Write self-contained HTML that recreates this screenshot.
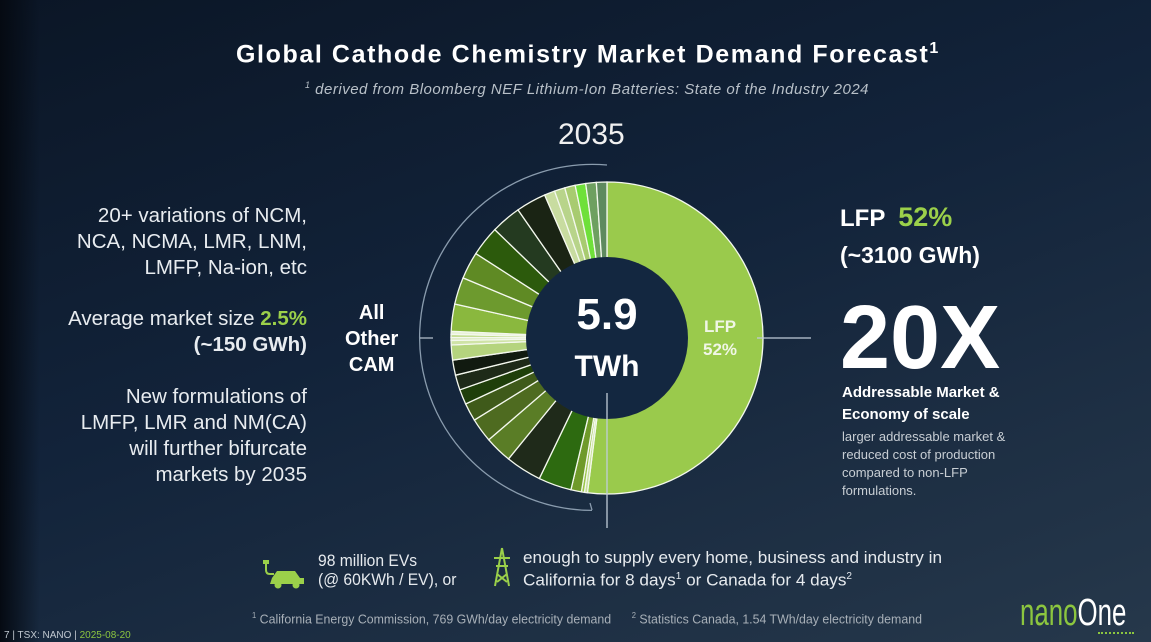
<!DOCTYPE html>
<html><head><meta charset="utf-8"><style>
body{margin:0;width:1151px;height:642px;overflow:hidden;font-family:"Liberation Sans",sans-serif;color:#fff;
background:linear-gradient(160deg,#0b1626 0%,#12233a 45%,#26384b 100%);position:relative}
.a{position:absolute;white-space:nowrap}
.l{right:844px;text-align:right;font-size:20.5px;line-height:26px;color:#e8ecf0}
.g{color:#9bd04a;font-weight:bold}
</style></head><body>
<div class="a" style="left:0;top:0;width:40px;height:642px;background:linear-gradient(90deg,#050a12,rgba(5,10,18,0))"></div>
<div class="a" style="left:236px;top:40px;font-size:25px;font-weight:bold;letter-spacing:1.6px">Global Cathode Chemistry Market Demand Forecast<sup style="font-size:16px">1</sup></div>
<div class="a" style="left:305px;top:80px;font-size:15px;font-style:italic;color:#b8c0c8;letter-spacing:0.5px"><sup style="font-size:9px">1</sup> derived from Bloomberg NEF Lithium-Ion Batteries: State of the Industry 2024</div>
<div class="a" style="left:558px;top:118px;font-size:30px;color:#f0f0f0">2035</div>
<div class="a l" style="top:203px">20+ variations of NCM,<br>NCA, NCMA, LMR, LNM,<br>LMFP, Na-ion, etc</div>
<div class="a l" style="top:306px">Average market size <span class="g">2.5%</span><br><b>(~150 GWh)</b></div>
<div class="a l" style="top:384px">New formulations of<br>LMFP, LMR and NM(CA)<br>will further bifurcate<br>markets by 2035</div>
<div class="a" style="left:345px;top:300px;font-size:20px;font-weight:bold;text-align:center;line-height:26px">All<br>Other<br>CAM</div>
<svg class="a" style="left:0;top:0" width="1151" height="642" id="s">
<g id="d"></g>
<circle cx="607" cy="338" r="81" fill="#132740"/>
<path d="M607 165 A173 173 0 1 0 592 510.4" fill="none" stroke="#8a9cae" stroke-width="1.3"/>
<line x1="420" y1="338" x2="433" y2="338" stroke="#b0bcc8" stroke-width="1.3"/>
<line x1="757" y1="338" x2="811" y2="338" stroke="#c0ccd8" stroke-width="1.3"/>
<line x1="607" y1="393" x2="607" y2="528" stroke="#c0ccd8" stroke-width="1.3"/>
<line x1="592" y1="510" x2="590" y2="503" stroke="#8a9cae" stroke-width="1.3"/>
</svg>
<div class="a" style="left:560px;top:290px;width:94px;text-align:center;font-size:44px;font-weight:bold;line-height:50px">5.9</div>
<div class="a" style="left:560px;top:350px;width:94px;text-align:center;font-size:30px;font-weight:bold">TWh</div>
<div class="a" style="left:703px;top:315px;font-size:17px;font-weight:bold;color:#f0f6e6;text-align:center;line-height:23px">LFP<br>52%</div>
<div class="a" style="left:840px;top:202px;font-size:24px;font-weight:bold">LFP &nbsp;<span class="g" style="font-size:27px">52%</span></div>
<div class="a" style="left:840px;top:242px;font-size:23px;font-weight:bold">(~3100 GWh)</div>
<div class="a" style="left:840px;top:288px;font-size:90px;font-weight:bold;line-height:100px">20X</div>
<div class="a" style="left:842px;top:382px;font-size:15px;font-weight:bold;line-height:22px">Addressable Market &amp;<br>Economy of scale</div>
<div class="a" style="left:842px;top:428px;font-size:13px;color:#c8ced4;line-height:18px">larger addressable market &amp;<br>reduced cost of production<br>compared to non-LFP<br>formulations.</div>
<svg class="a" style="left:258px;top:560px" width="50" height="30"><path d="M8 2 v8 q0 4 4 4 h4" stroke="#9bd04a" fill="none" stroke-width="2"/><rect x="5" y="0" width="6" height="4" fill="#9bd04a"/><path d="M14 18 l5 -7 h18 l5 7 h4 v6 h-34 z" fill="#9bd04a"/><circle cx="20" cy="25" r="3.5" fill="#9bd04a"/><circle cx="38" cy="25" r="3.5" fill="#9bd04a"/></svg>
<div class="a" style="left:318px;top:551px;font-size:17px;line-height:19px;color:#e6eaee;transform:scaleX(.92);transform-origin:left">98 million EVs<br>(@ 60KWh / EV), or</div>
<svg class="a" style="left:490px;top:546px" width="24" height="42"><path d="M12 2 L5 40 M12 2 L19 40 M4 12 H20 M6 20 H18 M7 28 L17 36 M17 28 L7 36" stroke="#9bd04a" stroke-width="2" fill="none"/></svg>
<div class="a" style="left:523px;top:548px;font-size:17px;line-height:19px;color:#e6eaee;transform:scaleX(1.01);transform-origin:left">enough to supply every home, business and industry in<br>California for 8 days<sup style="font-size:10px">1</sup> or Canada for 4 days<sup style="font-size:10px">2</sup></div>
<div class="a" style="left:252px;top:611px;font-size:13px;color:#a8b0b8;transform:scaleX(.95);transform-origin:left"><sup style="font-size:8px">1</sup> California Energy Commission, 769 GWh/day electricity demand &nbsp;&nbsp;&nbsp;&nbsp; <sup style="font-size:8px">2</sup> Statistics Canada, 1.54 TWh/day electricity demand</div>
<div class="a" style="left:1020px;top:592px;font-size:38px;transform:scaleX(.68);transform-origin:left"><span style="color:#8cc63f">nano</span><span>One</span></div>
<div class="a" style="left:1098px;top:632px;width:36px;border-top:2px dotted #8cc63f"></div>
<div class="a" style="left:4px;top:630px;font-size:10px;color:#c0c8d0">7 | TSX: NANO | <span style="color:#8cc63f">2025-08-20</span></div>
<script>
var segs=[[1,"#c8e09a"],[1,"#9bc54a"],[3.5,"#6f9a2a"],[11,"#2d6a10"],[12,"#1f2a1a"],[9,"#5a7d26"],[8,"#4e6b20"],[6,"#3f5a1a"],[5,"#1f3f0a"],[5,"#1e2a18"],[5,"#111a10"],[5,"#b5d47e"],[1.5,"#cfe3a6"],[1,"#dbe9bf"],[1,"#c0da8a"],[1,"#e8f2d6"],[9,"#8ab83e"],[9,"#6d9a2e"],[9,"#5f8a24"],[10,"#2c5a0c"],[10,"#243a20"],[10,"#1a2414"],[3.5,"#c8dca0"],[3.5,"#b8d48a"],[3.5,"#a8cb70"],[3.5,"#6fe03a"],[3.5,"#6ea060"],[3.5,"#5e8a5e"]];
var tot=0;segs.forEach(s=>tot+=s[0]);
var all=[[187.2,"#9aca4c"]];segs.forEach(s=>all.push([s[0]*172.8/tot,s[1]]));
var cx=607,cy=338,R=156,r=80,a=0,h="";
function p(ang,rad){var t=(ang-90)*Math.PI/180;return (cx+rad*Math.cos(t)).toFixed(2)+" "+(cy+rad*Math.sin(t)).toFixed(2);}
all.forEach(s=>{var b=a+s[0],lg=s[0]>180?1:0;
h+='<path d="M'+p(a,R)+' A'+R+' '+R+' 0 '+lg+' 1 '+p(b,R)+' L'+p(b,r)+' A'+r+' '+r+' 0 '+lg+' 0 '+p(a,r)+' Z" fill="'+s[1]+'" stroke="#f4f8ee" stroke-width="1.3"/>';a=b;});
document.getElementById("d").innerHTML=h;
</script>
</body></html>
